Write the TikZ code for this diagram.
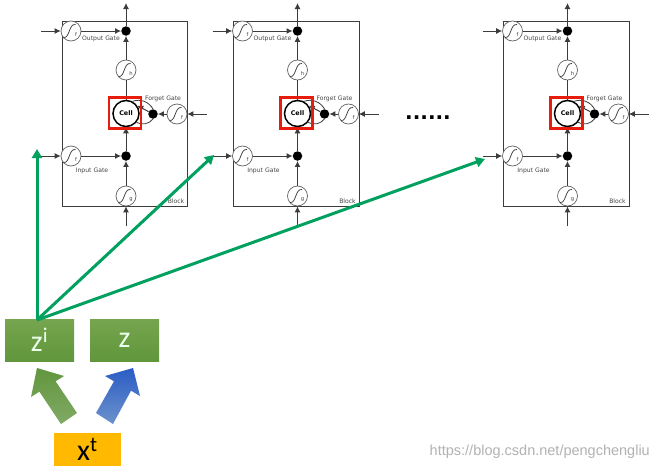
\documentclass[tikz,border=0pt]{standalone}
\usepackage{fontspec}
\setmainfont{DejaVu Sans}
\newfontfamily\wmfont{Liberation Sans}
\newfontfamily\bigfont{Carlito}
\usetikzlibrary{arrows.meta,calc}
\definecolor{lstmline}{RGB}{60,60,60}
\definecolor{lstmtxt}{RGB}{70,70,70}
\definecolor{redbox}{RGB}{232,28,12}
\definecolor{greenarrow}{RGB}{0,160,95}
\definecolor{greentop}{RGB}{118,165,78}
\definecolor{greenbot}{RGB}{96,150,60}
\definecolor{xbox}{RGB}{255,185,0}
\definecolor{bluetip}{RGB}{42,92,196}
\definecolor{bluebase}{RGB}{108,146,204}
\definecolor{fatgreentip}{RGB}{98,150,62}
\definecolor{fatgreenbase}{RGB}{128,170,100}
\tikzset{
  x=1pt,y=-1pt,
  blockbox/.style={draw=lstmline,line width=1.1pt,fill=white},
  gate/.style={circle,draw=lstmline!80,line width=0.7pt,fill=white,minimum size=20pt,inner sep=0pt},
  joint/.style={circle,fill=black,minimum size=9.5pt,inner sep=0pt},
  cellnode/.style={circle,draw=black,line width=1.5pt,fill=white,minimum size=26pt,inner sep=0pt,font=\fontsize{6.4}{7}\selectfont\bfseries},
  redframe/.style={draw=redbox,line width=2.6pt},
  wire/.style={draw=lstmline,line width=1pt,-{Latex[length=6pt,width=6pt]}},
  plain/.style={draw=lstmline,line width=0.8pt},
  gatelabel/.style={font=\fontsize{6.1}{7}\selectfont,text=lstmtxt,inner sep=0pt},
  greenlink/.style={draw=greenarrow,line width=3pt,-{Triangle[length=9pt,width=10pt]}},
  greenbox/.style={minimum width=69pt,minimum height=42pt,inner sep=0pt,top color=greentop,bottom color=greenbot,draw=none,text=white!92!green,font=\bigfont\fontsize{30}{32}\selectfont},
}
\newcommand{\sig}[2]{% sigmoid glyph inside a gate node
  \draw[lstmline,line width=0.75pt] ($(#1)+(-7.5,6.5)$) .. controls ($(#1)+(-1,7.5)$) and ($(#1)+(-2.5,-7.5)$) .. ($(#1)+(4.5,-6.5)$);
  \node[font=\fontsize{5.2}{5}\selectfont,text=lstmtxt,inner sep=0pt] at ($(#1)+(5,3.5)$) {#2};
}
\newcommand{\lstmblock}[2]{%
  \begin{scope}[xshift=#2pt]
    \node[blockbox,minimum width=125.5pt,minimum height=185pt,inner sep=0pt,anchor=north west] (#1box) at (61.5,21) {};
    \node[gate] (#1of) at (71,31) {};
    \node[gate] (#1if) at (71,156) {};
    \node[gate] (#1ff) at (177,114) {};
    \node[gate] (#1h) at (126,70) {};
    \node[gate] (#1g) at (126,196) {};
    \node[joint] (#1oj) at (126,31) {};
    \node[joint] (#1ij) at (126,156) {};
    \node[joint] (#1fj) at (153,114) {};
    \node[cellnode] (#1cell) at (126,113.5) {Cell};
    \coordinate (#1top) at (126,3);
    \coordinate (#1bot) at (126,226);
    \coordinate (#1oin) at (41,31);
    \coordinate (#1iin) at (41,156);
    \coordinate (#1fin) at (207,114);
    \path[wire] (#1oin) -- (#1of);
    \path[wire] (#1iin) -- (#1if);
    \path[wire] (#1fin) -- (#1ff);
    \path[wire] (#1bot) -- (#1g);
    \path[wire] (#1ff) -- (#1fj);
    \path[wire] (#1if) -- (#1ij);
    \path[wire] (#1g) -- (#1ij);
    \path[wire] (#1ij) -- (#1cell);
    \path[plain] (#1cell) -- (#1h);
    \path[wire] (#1h) -- (#1oj);
    \path[wire] (#1of) -- (#1oj);
    \path[wire] (#1oj) -- (#1top);
    \path[wire] (#1fj) -- (#1cell.35);
    \path[plain] (#1cell.-40) to[bend right=40] (#1fj.south);
    \path[plain] (#1cell.62) to[bend left=40] (#1fj.north);
    \sig{#1of}{f}\sig{#1if}{f}\sig{#1ff}{f}\sig{#1h}{h}\sig{#1g}{g}
    \node[gatelabel] (#1ol) at (101,38.5) {Output Gate};
    \node[gatelabel] (#1il) at (92,170.5) {Input Gate};
    \node[gatelabel] (#1fl) at (163,98.5) {Forget Gate};
    \node[gatelabel] (#1bl) at (176,201) {Block};
    \node[redframe,minimum width=32pt,minimum height=31pt,inner sep=0pt] (#1red) at (125,113) {};
  \end{scope}
}
\begin{document}
\begin{tikzpicture}
\useasboundingbox (0,0) rectangle (655,471);
\fill[white] (0,0) rectangle (655,471);
\lstmblock{a}{0}
\lstmblock{b}{171.5}
\lstmblock{c}{441.5}
\node[font=\bfseries\fontsize{20}{21}\selectfont,inner sep=0pt] (dots) at (428,118) {......};
% encoder boxes
\node[greenbox] (zi) at (39.5,340) {z\textsuperscript{i}};
\node[greenbox] (z) at (124.5,340) {z};
\node[fill=xbox,minimum width=67pt,minimum height=33pt,inner sep=0pt,text=black,font=\bigfont\fontsize{30}{32}\selectfont] (xt) at (87.5,449) {x\textsuperscript{t}};
% fat arrows
\shade[top color=fatgreentip,bottom color=fatgreenbase] (37,368) -- (64,376) -- (55.6,381.3) -- (77,413) -- (61,424) -- (39.4,391.7) -- (31,397) -- cycle;
\shade[top color=bluetip,bottom color=bluebase] (133,368) -- (140,396) -- (131,390.7) -- (113,424) -- (96,413) -- (114,381.3) -- (105,376) -- cycle;
% green links
\coordinate (src) at (37,320);
\coordinate (e1) at (37,149);
\coordinate (e2) at (214,155);
\coordinate (e3) at (485,159);
\path[greenlink] (src) -- (e1);
\path[greenlink] (src) -- (e2);
\path[greenlink] (src) -- (e3);
\node[font=\wmfont\fontsize{14.5}{16}\selectfont,text=gray!60,anchor=east,inner sep=0pt] (wm) at (650,452) {https://blog.csdn.net/pengchengliu};
\end{tikzpicture}
\end{document}
